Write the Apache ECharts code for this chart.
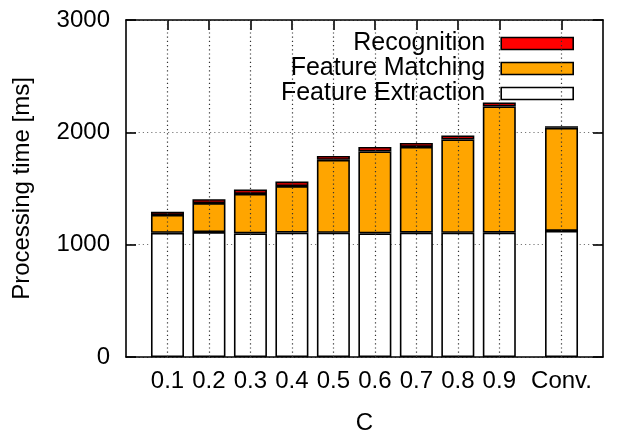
<!DOCTYPE html>
<html>
<head>
<meta charset="utf-8">
<script src="https://cdn.jsdelivr.net/npm/echarts@6/dist/echarts.min.js"></script>
<style>
  html, body { margin: 0; padding: 0; background: #fff; }
  #chart { width: 619px; height: 440px; }
</style>
</head>
<body>
<div id="chart"></div>
<script>
// Processing time per stage for each threshold C, plus the conventional method
const categories = ['0.1', '0.2', '0.3', '0.4', '0.5', '0.6', '0.7', '0.8', '0.9', 'Conv.'];
const featureExtraction = [1105, 1112, 1100, 1108, 1106, 1100, 1107, 1106, 1107, 1122];
const featureMatching   = [159, 258, 352, 414, 649, 730, 763, 831, 1123, 918];
const recognition       = [30, 35, 38, 40, 35, 40, 35, 35, 35, 15];
const yTicks = [0, 1000, 2000, 3000];

// The x axis is laid out on a half-unit grid: one unit per group,
// with an extra half unit of space before the last group.
const HALF_STEPS = 23;                       // axis spans 11.5 units
const groupIndex = categories.map((c, i) => 2 * (i + 1) + (i === categories.length - 1 ? 1 : 0));
const axisKeys = Array.from({ length: HALF_STEPS + 1 }, (_, k) => 'p' + k);
const keyLabel = {};
groupIndex.forEach((k, i) => { keyLabel['p' + k] = categories[i]; });
const isGroup = (idx) => groupIndex.indexOf(idx) >= 0;

const spread = values => {
  const out = axisKeys.map(() => null);
  groupIndex.forEach((k, i) => { out[k] = values[i]; });
  return out;
};

const FONT = "'Liberation Sans', Arial, sans-serif";
const FS = 24;
const black = '#000';

const barSeries = (name, values, color) => ({
  name,
  type: 'bar',
  stack: 'total',
  barWidth: 33,
  data: spread(values),
  itemStyle: { color, borderColor: black, borderWidth: 1.6 },
  z: 2
});

const axisLineStyle = { color: black, width: 1.6 };

const chart = echarts.init(document.getElementById('chart'), null, { renderer: 'canvas' });
chart.setOption({
  animation: false,
  backgroundColor: '#fff',
  textStyle: { fontFamily: FONT },
  grid: { left: 126, right: 16, top: 20, bottom: 78 },
  legend: {
    data: ['Recognition', 'Feature Matching', 'Feature Extraction'],
    orient: 'vertical',
    right: 29,
    top: 31,
    align: 'right',
    itemWidth: 72,
    itemHeight: 12,
    itemGap: 0,
    padding: [0, 16, 2, 40],
    backgroundColor: '#fff',
    icon: 'rect',
    selectedMode: false,
    itemStyle: { borderColor: black, borderWidth: 1.6 },
    textStyle: { fontFamily: FONT, fontSize: 25, color: black, lineHeight: 25, padding: [0, 11, 0, 0] },
    // above the vertical grid lines, below the bars
    z: 1.5
  },
  xAxis: [
    {
      type: 'category', position: 'bottom', data: axisKeys, boundaryGap: false,
      name: 'C', nameLocation: 'middle', nameGap: 54,
      nameTextStyle: { fontFamily: FONT, fontSize: FS, color: black },
      axisLine: { show: true, onZero: false, lineStyle: axisLineStyle },
      axisTick: { show: true, inside: true, length: 10, interval: (idx) => isGroup(idx), lineStyle: axisLineStyle },
      axisLabel: { interval: (idx) => isGroup(idx), formatter: (v) => keyLabel[v] || '', margin: 12,
                   fontFamily: FONT, fontSize: FS, color: black },
      splitLine: { show: false }
    },
    {
      type: 'category', position: 'top', data: axisKeys, boundaryGap: false,
      axisLine: { show: true, onZero: false, lineStyle: axisLineStyle },
      axisTick: { show: true, inside: true, length: 10, interval: (idx) => isGroup(idx), lineStyle: axisLineStyle },
      axisLabel: { show: false },
      splitLine: { show: false }
    }
  ],
  yAxis: [
    {
      type: 'value', position: 'left', min: yTicks[0], max: yTicks[yTicks.length - 1], interval: 1000,
      name: 'Processing time [ms]', nameLocation: 'middle', nameGap: 92,
      nameTextStyle: { fontFamily: FONT, fontSize: FS, color: black },
      axisLine: { show: true, onZero: false, lineStyle: axisLineStyle },
      axisTick: { show: true, inside: true, length: 10, lineStyle: axisLineStyle },
      axisLabel: { margin: 16, formatter: (v) => String(v), fontFamily: FONT, fontSize: FS, color: black },
      splitLine: { show: true, lineStyle: { color: '#777', width: 1.2, type: [1.2, 3] } }
    },
    {
      type: 'value', position: 'right', min: yTicks[0], max: yTicks[yTicks.length - 1], interval: 1000,
      axisLine: { show: true, onZero: false, lineStyle: axisLineStyle },
      axisTick: { show: true, inside: true, length: 10, lineStyle: axisLineStyle },
      axisLabel: { show: false },
      splitLine: { show: false }
    }
  ],
  series: [
    {
      // vertical dotted grid at each group position, kept behind the bars
      name: 'grid-x',
      type: 'line',
      data: [],
      z: 1,
      silent: true,
      markLine: {
        silent: true,
        symbol: ['none', 'none'],
        label: { show: false },
        lineStyle: { color: '#333', width: 1.2, type: [1.2, 3] },
        data: groupIndex.map(k => ({ xAxis: k })),
        animation: false
      }
    },
    barSeries('Feature Extraction', featureExtraction, '#ffffff'),
    barSeries('Feature Matching', featureMatching, '#ffa500'),
    barSeries('Recognition', recognition, '#ff0000')
  ]
});
</script>
</body>
</html>
